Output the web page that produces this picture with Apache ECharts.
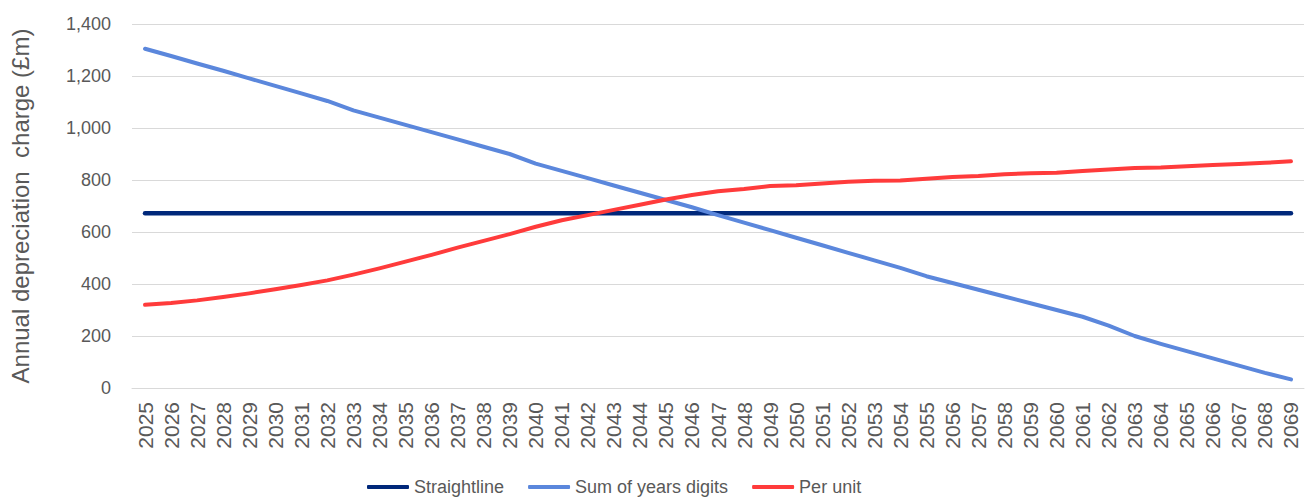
<!DOCTYPE html>
<html>
<head>
<meta charset="utf-8">
<script src="https://cdn.jsdelivr.net/npm/echarts@6/dist/echarts.min.js"></script>
<style>
  html, body { margin: 0; padding: 0; background: #ffffff; }
  #chart { width: 1306px; height: 500px; }
</style>
</head>
<body>
<div id="chart"></div>
<script>
// Years of the asset life
const years = [
  '2025','2026','2027','2028','2029','2030','2031','2032','2033','2034',
  '2035','2036','2037','2038','2039','2040','2041','2042','2043','2044',
  '2045','2046','2047','2048','2049','2050','2051','2052','2053','2054',
  '2055','2056','2057','2058','2059','2060','2061','2062','2063','2064',
  '2065','2066','2067','2068','2069'
];

// Annual depreciation charge (£m) under each method
const straightline = [
  672, 672, 672, 672, 672, 672, 672, 672, 672, 672,
  672, 672, 672, 672, 672, 672, 672, 672, 672, 672,
  672, 672, 672, 672, 672, 672, 672, 672, 672, 672,
  672, 672, 672, 672, 672, 672, 672, 672, 672, 672,
  672, 672, 672, 672, 672
];

const sumOfYearsDigits = [
  1305, 1277, 1248, 1220, 1191, 1162, 1133, 1104, 1068, 1040,
  1012,  984,  956,  928,  900,  863,  835,  807,  779,  751,
   723,  695,  665,  636,  607,  578,  549,  520,  491,  462,
   430,  404,  378,  352,  326,  300,  274,  240,  200,  170,
   142,  114,   86,   58,   33
];

const perUnit = [
  320, 327, 337, 350, 364, 380, 396, 414, 436, 460,
  486, 512, 540, 566, 592, 620, 645, 665, 685, 705,
  725, 742, 757, 765, 777, 780, 787, 793, 797, 798,
  805, 812, 815, 822, 826, 828, 835, 840, 846, 848,
  853, 858, 862, 866, 872
];

// Value axis range
const yMin = 0;
const yMax = 1400;
const yStep = 200;

const TEXT = '#595959';
const GRID = '#d9d9d9';
const FONT = "'Liberation Sans', Arial, sans-serif";

const chart = echarts.init(document.getElementById('chart'), null, { renderer: 'svg' });

function lineSeries(name, data, color, width) {
  return {
    name: name,
    type: 'line',
    data: data,
    symbol: 'none',
    smooth: false,
    lineStyle: { color: color, width: width, cap: 'round', join: 'round' },
    itemStyle: { color: color },
    emphasis: { disabled: true }
  };
}

chart.setOption({
  animation: false,
  backgroundColor: '#ffffff',
  textStyle: { fontFamily: FONT },
  grid: { left: 128, right: 2, top: 24, bottom: 112, containLabel: false },
  legend: {
    left: 367,
    top: 478,
    padding: 0,
    itemWidth: 42,
    itemHeight: 4,
    itemGap: 24,
    icon: 'roundRect',
    textStyle: { color: TEXT, fontSize: 18, fontFamily: FONT },
    data: ['Straightline', 'Sum of years digits', 'Per unit']
  },
  xAxis: {
    type: 'category',
    data: years,
    boundaryGap: true,
    axisLine: { show: true, lineStyle: { color: GRID, width: 1 } },
    axisTick: { show: false },
    axisLabel: {
      rotate: 90,
      interval: 0,
      margin: 14,
      color: TEXT,
      fontSize: 21,
      fontFamily: FONT
    },
    splitLine: { show: false }
  },
  yAxis: {
    type: 'value',
    min: yMin,
    max: yMax,
    interval: yStep,
    name: 'Annual depreciation  charge (£m)',
    nameLocation: 'middle',
    nameGap: 100,
    nameTextStyle: { color: TEXT, fontSize: 24, fontFamily: FONT },
    axisLine: { show: false },
    axisTick: { show: false },
    axisLabel: {
      margin: 21,
      color: TEXT,
      fontSize: 18,
      fontFamily: FONT,
      formatter: function (v) { return v.toLocaleString('en-GB'); }
    },
    splitLine: { show: true, lineStyle: { color: GRID, width: 1 } }
  },
  series: [
    lineSeries('Straightline', straightline, '#00287a', 4.5),
    lineSeries('Sum of years digits', sumOfYearsDigits, '#5b87dc', 4),
    lineSeries('Per unit', perUnit, '#ff3b3b', 4)
  ]
});
</script>
</body>
</html>
